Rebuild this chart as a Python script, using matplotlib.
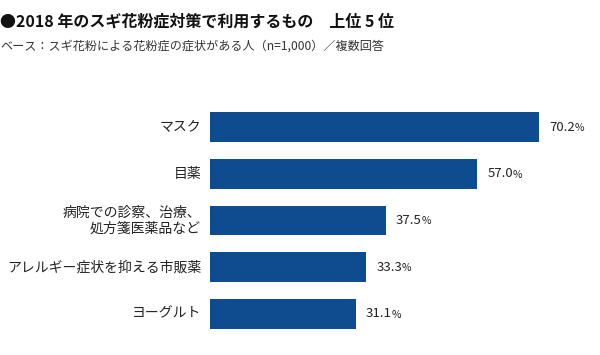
import matplotlib
matplotlib.use("Agg")
import matplotlib.pyplot as plt

plt.rcParams['font.family'] = ['Noto Sans CJK JP', 'DejaVu Sans']

categories = ["マスク", "目薬", "病院での診察、治療、\n処方箋医薬品など", "アレルギー症状を抑える市販薬", "ヨーグルト"]
values = [70.2, 57.0, 37.5, 33.3, 31.1]

title = "●2018 年のスギ花粉症対策で利用するもの　上位 5 位"
subtitle = "ベース：スギ花粉による花粉症の症状がある人（n=1,000）／複数回答"

W, H = 600, 355
fig = plt.figure(figsize=(W / 100, H / 100), dpi=100)
fig.patch.set_facecolor("white")

# axes: x from 210px to 600px, y from 104px to 337px
ax = fig.add_axes([210 / W, 1 - 337 / H, 390 / W, 233 / H])
ypos = list(range(len(categories)))
ax.barh(ypos, values, height=0.64, color="#0f4b8f")
ax.set_xlim(0, 390 / 4.69)
ax.set_ylim(len(categories) - 0.5, -0.5)
ax.axis("off")

for y, cat, v in zip(ypos, categories, values):
    ax.text(-1.9, y, cat, ha="right", va="center", fontsize=10,
            color="#222222", linespacing=1.2)
    t = ax.annotate(f"{v:.1f}", (v, y), xytext=(10, 0), textcoords="offset pixels",
                    ha="left", va="center", fontsize=9.5, color="#222222")
    fig.canvas.draw()
    bb = t.get_window_extent()
    ax.annotate("%", (bb.x1, (bb.y0 + bb.y1) / 2 - 1), xycoords="figure pixels",
                ha="left", va="center", fontsize=7.5, color="#222222")

fig.text(0, 1 - 22 / H, title, ha="left", va="center", fontsize=11.5,
         fontweight="bold", color="#111111")
fig.text(0, 1 - 46 / H, subtitle, ha="left", va="center", fontsize=8.7,
         color="#333333")

fig.savefig("out.png", dpi=100)
